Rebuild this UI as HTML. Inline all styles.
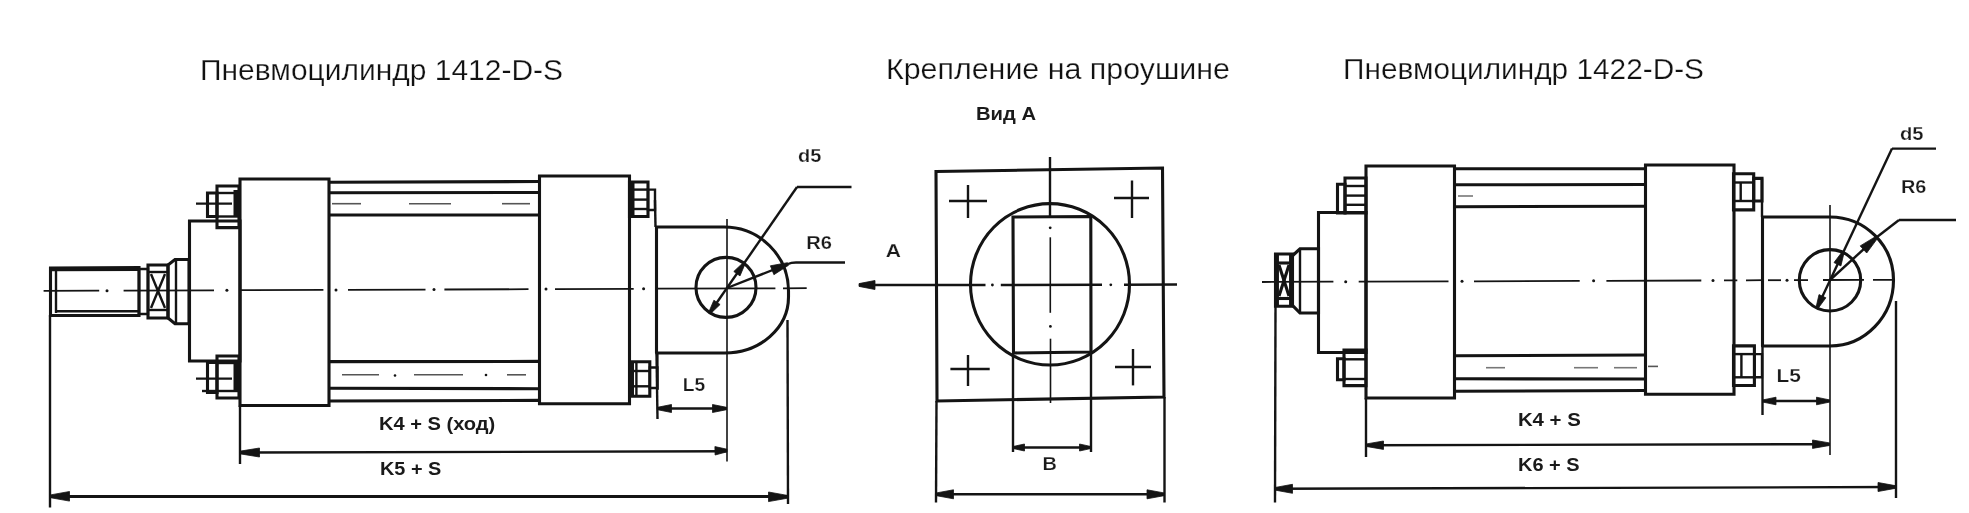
<!DOCTYPE html>
<html><head><meta charset="utf-8"><title>Пневмоцилиндр</title>
<style>
html,body{margin:0;padding:0;background:#fff;}
body{width:1969px;height:513px;overflow:hidden;}
svg{display:block;font-family:"Liberation Sans",sans-serif;filter:blur(0.45px);}
</style></head>
<body>
<svg width="1969" height="513" viewBox="0 0 1969 513">
<rect x="0" y="0" width="1969" height="513" fill="#fff"/>
<text x="200.0" y="79.5" font-size="29" font-weight="normal" fill="#111" stroke="#fff" stroke-width="0.25" textLength="363.0" lengthAdjust="spacingAndGlyphs">Пневмоцилиндр 1412-D-S</text>
<text x="886.0" y="79.3" font-size="29" font-weight="normal" fill="#111" stroke="#fff" stroke-width="0.25" textLength="344.0" lengthAdjust="spacingAndGlyphs">Крепление на проушине</text>
<text x="1343.0" y="79.0" font-size="29" font-weight="normal" fill="#111" stroke="#fff" stroke-width="0.25" textLength="361.0" lengthAdjust="spacingAndGlyphs">Пневмоцилиндр 1422-D-S</text>
<text x="976.0" y="120.0" font-size="19" font-weight="bold" fill="#1a1a1a" textLength="60.0" lengthAdjust="spacingAndGlyphs">Вид А</text>
<polygon points="50.5,268 139,267.5 139,315.5 50.5,315.5" fill="none" stroke="#141414" stroke-width="3.1" stroke-linejoin="miter"/>
<line x1="52" y1="269.2" x2="139" y2="269" stroke="#141414" stroke-width="4.2" stroke-linecap="butt"/>
<line x1="56" y1="311.2" x2="139" y2="311.2" stroke="#141414" stroke-width="2.4" stroke-linecap="butt"/>
<line x1="56" y1="269" x2="56" y2="313" stroke="#141414" stroke-width="2.4" stroke-linecap="butt"/>
<polygon points="139,269 148,269 148,314 139,314" fill="none" stroke="#141414" stroke-width="2.4" stroke-linejoin="miter"/>
<polygon points="148,265 168,265 168,318 148,318" fill="none" stroke="#141414" stroke-width="3.1" stroke-linejoin="miter"/>
<line x1="148" y1="272" x2="168" y2="272" stroke="#141414" stroke-width="2.4" stroke-linecap="butt"/>
<line x1="148" y1="310" x2="168" y2="310" stroke="#141414" stroke-width="2.4" stroke-linecap="butt"/>
<line x1="151" y1="274" x2="165" y2="308" stroke="#141414" stroke-width="2.4" stroke-linecap="butt"/>
<line x1="165" y1="274" x2="151" y2="308" stroke="#141414" stroke-width="2.4" stroke-linecap="butt"/>
<polygon points="168,265 175,259.5 189,259.5 189,323.8 175,323.8 168,318" fill="none" stroke="#141414" stroke-width="3.1" stroke-linejoin="miter"/>
<line x1="176" y1="260" x2="176" y2="323" stroke="#141414" stroke-width="2.4" stroke-linecap="butt"/>
<polygon points="189.5,221 240,221 240,361 189.5,361" fill="none" stroke="#141414" stroke-width="3.1" stroke-linejoin="miter"/>
<polygon points="240,179 329,179 329,405.5 240,405.5" fill="none" stroke="#141414" stroke-width="3.1" stroke-linejoin="miter"/>
<polygon points="217,186 239,186 239,227.6 217,227.6" fill="none" stroke="#141414" stroke-width="3.1" stroke-linejoin="miter"/>
<line x1="217" y1="193" x2="239" y2="193" stroke="#141414" stroke-width="2.4" stroke-linecap="butt"/>
<line x1="217" y1="216.5" x2="239" y2="216.5" stroke="#141414" stroke-width="2.4" stroke-linecap="butt"/>
<rect x="233.5" y="190" width="5.5" height="26" fill="#141414"/>
<polygon points="207.5,193 217,193 217,216.5 207.5,216.5" fill="none" stroke="#141414" stroke-width="3.1" stroke-linejoin="miter"/>
<line x1="196" y1="203.6" x2="232" y2="203.6" stroke="#141414" stroke-width="2.4" stroke-linecap="butt"/>
<polygon points="217,356 239,356 239,398 217,398" fill="none" stroke="#141414" stroke-width="3.1" stroke-linejoin="miter"/>
<line x1="217" y1="363" x2="239" y2="363" stroke="#141414" stroke-width="2.4" stroke-linecap="butt"/>
<line x1="217" y1="391" x2="239" y2="391" stroke="#141414" stroke-width="2.4" stroke-linecap="butt"/>
<rect x="233.5" y="360" width="5.5" height="30" fill="#141414"/>
<polygon points="207.5,362.5 217,362.5 217,392.5 207.5,392.5" fill="none" stroke="#141414" stroke-width="3.1" stroke-linejoin="miter"/>
<line x1="196" y1="378.6" x2="232" y2="378.6" stroke="#141414" stroke-width="2.4" stroke-linecap="butt"/>
<line x1="202" y1="391" x2="217" y2="391" stroke="#141414" stroke-width="2.4" stroke-linecap="butt"/>
<line x1="329" y1="182.2" x2="539.5" y2="181.5" stroke="#141414" stroke-width="3.1" stroke-linecap="butt"/>
<line x1="329" y1="192.7" x2="539.5" y2="192.5" stroke="#141414" stroke-width="3.1" stroke-linecap="butt"/>
<line x1="329" y1="215" x2="539.5" y2="215" stroke="#141414" stroke-width="3.1" stroke-linecap="butt"/>
<line x1="329" y1="361.6" x2="539.5" y2="361.4" stroke="#141414" stroke-width="3.1" stroke-linecap="butt"/>
<line x1="329" y1="388.2" x2="539.5" y2="388.7" stroke="#141414" stroke-width="3.1" stroke-linecap="butt"/>
<line x1="329" y1="401" x2="539.5" y2="400.4" stroke="#141414" stroke-width="3.1" stroke-linecap="butt"/>
<line x1="332" y1="203.7" x2="361" y2="203.7" stroke="#555" stroke-width="1.6" stroke-linecap="butt"/>
<line x1="409" y1="203.7" x2="451" y2="203.7" stroke="#555" stroke-width="1.6" stroke-linecap="butt"/>
<line x1="502" y1="203.7" x2="530" y2="203.7" stroke="#555" stroke-width="1.6" stroke-linecap="butt"/>
<line x1="342" y1="374.8" x2="379" y2="374.8" stroke="#555" stroke-width="1.6" stroke-linecap="butt"/>
<line x1="414" y1="374.8" x2="463" y2="374.8" stroke="#555" stroke-width="1.6" stroke-linecap="butt"/>
<line x1="507" y1="374.8" x2="526" y2="374.8" stroke="#555" stroke-width="1.6" stroke-linecap="butt"/>
<circle cx="395" cy="375.5" r="1.3" fill="#141414"/>
<circle cx="486" cy="375" r="1.3" fill="#141414"/>
<polygon points="539.5,176 629.5,176 629.5,403.7 539.5,403.7" fill="none" stroke="#141414" stroke-width="3.1" stroke-linejoin="miter"/>
<polygon points="629.5,182 648,182 648,216.5 629.5,216.5" fill="none" stroke="#141414" stroke-width="3.1" stroke-linejoin="miter"/>
<line x1="629.5" y1="189.6" x2="648" y2="189.6" stroke="#141414" stroke-width="2.4" stroke-linecap="butt"/>
<line x1="629.5" y1="199.6" x2="648" y2="199.6" stroke="#141414" stroke-width="2.4" stroke-linecap="butt"/>
<line x1="629.5" y1="209" x2="648" y2="209" stroke="#141414" stroke-width="2.4" stroke-linecap="butt"/>
<rect x="628.5" y="181" width="6" height="36" fill="#141414"/>
<polygon points="648,189.6 655,189.6 655,210 648,210" fill="none" stroke="#141414" stroke-width="2.4" stroke-linejoin="miter"/>
<line x1="655" y1="200" x2="655.5" y2="227" stroke="#141414" stroke-width="2.4" stroke-linecap="butt"/>
<polygon points="630,361.7 649.8,361.7 649.8,396.2 630,396.2" fill="none" stroke="#141414" stroke-width="3.1" stroke-linejoin="miter"/>
<line x1="630" y1="371" x2="649.8" y2="371" stroke="#141414" stroke-width="2.4" stroke-linecap="butt"/>
<line x1="630" y1="386.3" x2="649.8" y2="386.3" stroke="#141414" stroke-width="2.4" stroke-linecap="butt"/>
<line x1="636.4" y1="361.7" x2="636.4" y2="396.2" stroke="#141414" stroke-width="2.4" stroke-linecap="butt"/>
<rect x="629" y="361" width="5" height="36" fill="#141414"/>
<polygon points="649.8,367.5 657.4,367.5 657.4,388 649.8,388" fill="none" stroke="#141414" stroke-width="2.4" stroke-linejoin="miter"/>
<line x1="657.4" y1="352" x2="657.4" y2="390" stroke="#141414" stroke-width="2.4" stroke-linecap="butt"/>
<path d="M656.5,227 L724,227 A64.5,64 0 0 1 788.5,291 L788.5,297 A63.5,56 0 0 1 725,353 L656.5,353 Z" fill="none" stroke="#141414" stroke-width="3.1" stroke-linejoin="round"/>
<circle cx="726" cy="287.4" r="30" fill="none" stroke="#141414" stroke-width="3.1"/>
<line x1="43.6" y1="290.9" x2="99.2" y2="290.7" stroke="#141414" stroke-width="1.8" stroke-linecap="butt"/>
<line x1="123.6" y1="290.6" x2="214" y2="290.3" stroke="#141414" stroke-width="1.8" stroke-linecap="butt"/>
<line x1="240.8" y1="290.2" x2="323.4" y2="289.9" stroke="#141414" stroke-width="1.8" stroke-linecap="butt"/>
<line x1="348" y1="289.8" x2="425.5" y2="289.6" stroke="#141414" stroke-width="1.8" stroke-linecap="butt"/>
<line x1="444.4" y1="289.5" x2="528.5" y2="289.2" stroke="#141414" stroke-width="1.8" stroke-linecap="butt"/>
<line x1="555" y1="289.1" x2="633.7" y2="288.8" stroke="#141414" stroke-width="1.8" stroke-linecap="butt"/>
<line x1="655" y1="288.7" x2="775.4" y2="288.3" stroke="#141414" stroke-width="1.8" stroke-linecap="butt"/>
<line x1="783" y1="288.3" x2="806.7" y2="288.2" stroke="#141414" stroke-width="1.8" stroke-linecap="butt"/>
<circle cx="107" cy="290.7" r="1.5" fill="#141414"/>
<circle cx="226.9" cy="290.2" r="1.5" fill="#141414"/>
<circle cx="336" cy="289.9" r="1.5" fill="#141414"/>
<circle cx="434" cy="289.5" r="1.5" fill="#141414"/>
<circle cx="546" cy="289.1" r="1.5" fill="#141414"/>
<circle cx="643.6" cy="288.8" r="1.5" fill="#141414"/>
<line x1="727" y1="219" x2="727" y2="461.5" stroke="#141414" stroke-width="1.6" stroke-linecap="butt"/>
<line x1="797" y1="187" x2="851.5" y2="187" stroke="#141414" stroke-width="2.4" stroke-linecap="butt"/>
<line x1="797" y1="187" x2="709.6" y2="313" stroke="#141414" stroke-width="2.4" stroke-linecap="butt"/>
<polygon points="745.2,263.6 740.0,275.9 733.8,271.5 743.4,262.4" fill="#141414" stroke="#141414" stroke-width="0.8"/>
<polygon points="708.7,312.3 713.9,300.2 720.1,304.5 710.5,313.7" fill="#141414" stroke="#141414" stroke-width="0.8"/>
<line x1="727" y1="288" x2="788" y2="264" stroke="#141414" stroke-width="2.4" stroke-linecap="butt"/>
<path d="M788,264 Q791,262.5 796,262.5 L845,262.5" fill="none" stroke="#141414" stroke-width="2.4" stroke-linejoin="round"/>
<polygon points="788.5,265.3 773.9,274.7 770.4,265.8 787.5,262.7" fill="#141414" stroke="#141414" stroke-width="0.8"/>
<text x="798.0" y="162.0" font-size="19" font-weight="bold" fill="#1a1a1a" stroke="#fff" stroke-width="0.25" textLength="23.4" lengthAdjust="spacingAndGlyphs">d5</text>
<text x="806.3" y="249.0" font-size="19" font-weight="bold" fill="#1a1a1a" stroke="#fff" stroke-width="0.25" textLength="25.7" lengthAdjust="spacingAndGlyphs">R6</text>
<line x1="656.5" y1="353.5" x2="657.5" y2="419" stroke="#141414" stroke-width="2.4" stroke-linecap="butt"/>
<line x1="787.5" y1="320" x2="788" y2="504" stroke="#141414" stroke-width="2.4" stroke-linecap="butt"/>
<line x1="240" y1="405.5" x2="240" y2="464" stroke="#141414" stroke-width="2.4" stroke-linecap="butt"/>
<line x1="50" y1="315" x2="50" y2="507.5" stroke="#141414" stroke-width="2.4" stroke-linecap="butt"/>
<line x1="657" y1="408.5" x2="727" y2="408.5" stroke="#141414" stroke-width="2.4" stroke-linecap="butt"/>
<polygon points="657.5,407.3 671.5,404.5 671.5,412.5 657.5,409.7" fill="#141414" stroke="#141414" stroke-width="0.8"/>
<polygon points="726.5,409.7 712.5,412.5 712.5,404.5 726.5,407.3" fill="#141414" stroke="#141414" stroke-width="0.8"/>
<text x="682.7" y="390.9" font-size="19" font-weight="bold" fill="#1a1a1a" stroke="#fff" stroke-width="0.25" textLength="22.5" lengthAdjust="spacingAndGlyphs">L5</text>
<line x1="240" y1="452.5" x2="727" y2="451.3" stroke="#141414" stroke-width="2.4" stroke-linecap="butt"/>
<polygon points="240.5,451.1 259.5,448.0 259.5,457.0 240.5,453.9" fill="#141414" stroke="#141414" stroke-width="0.8"/>
<polygon points="727.0,451.8 715.1,455.0 714.9,446.6 727.0,449.2" fill="#141414" stroke="#141414" stroke-width="0.8"/>
<text x="378.9" y="430.3" font-size="19" font-weight="bold" fill="#1a1a1a" textLength="116.4" lengthAdjust="spacingAndGlyphs">K4 + S (ход)</text>
<line x1="50" y1="496.5" x2="788" y2="496.5" stroke="#141414" stroke-width="2.8" stroke-linecap="butt"/>
<polygon points="50.5,494.9 69.5,491.5 69.5,501.1 50.5,497.7" fill="#141414" stroke="#141414" stroke-width="0.8"/>
<polygon points="787.5,498.2 768.5,501.6 768.5,492.0 787.5,495.4" fill="#141414" stroke="#141414" stroke-width="0.8"/>
<text x="380.0" y="474.9" font-size="19" font-weight="bold" fill="#1a1a1a" textLength="61.3" lengthAdjust="spacingAndGlyphs">K5 + S</text>
<polygon points="936,171.5 1162.5,168 1164,397 937,401" fill="none" stroke="#141414" stroke-width="3.1" stroke-linejoin="miter"/>
<ellipse cx="1050" cy="284.3" rx="79.5" ry="80.7" fill="none" stroke="#141414" stroke-width="3.1"/>
<polygon points="1013,217 1090.8,216.5 1091,352 1013.5,353" fill="none" stroke="#141414" stroke-width="3.1" stroke-linejoin="miter"/>
<line x1="949" y1="201" x2="987" y2="201" stroke="#141414" stroke-width="2.4" stroke-linecap="butt"/>
<line x1="968" y1="185" x2="968" y2="218" stroke="#141414" stroke-width="2.4" stroke-linecap="butt"/>
<line x1="1114" y1="198" x2="1149" y2="198" stroke="#141414" stroke-width="2.4" stroke-linecap="butt"/>
<line x1="1132" y1="180.5" x2="1132" y2="218" stroke="#141414" stroke-width="2.4" stroke-linecap="butt"/>
<line x1="950.4" y1="369" x2="989.7" y2="369" stroke="#141414" stroke-width="2.4" stroke-linecap="butt"/>
<line x1="968" y1="355" x2="968" y2="386" stroke="#141414" stroke-width="2.4" stroke-linecap="butt"/>
<line x1="1115" y1="367" x2="1151" y2="367" stroke="#141414" stroke-width="2.4" stroke-linecap="butt"/>
<line x1="1133" y1="349" x2="1133" y2="385.4" stroke="#141414" stroke-width="2.4" stroke-linecap="butt"/>
<line x1="1050" y1="157" x2="1050" y2="217.5" stroke="#141414" stroke-width="2.4" stroke-linecap="butt"/>
<line x1="1050.3" y1="237.3" x2="1050.3" y2="312.8" stroke="#141414" stroke-width="1.6" stroke-linecap="butt"/>
<line x1="1050.5" y1="338.7" x2="1050.5" y2="403" stroke="#141414" stroke-width="1.6" stroke-linecap="butt"/>
<circle cx="1050.2" cy="227.8" r="1.4" fill="#141414"/>
<circle cx="1050.4" cy="326.4" r="1.4" fill="#141414"/>
<line x1="859" y1="285" x2="985.5" y2="285" stroke="#141414" stroke-width="2.4" stroke-linecap="butt"/>
<line x1="1000.8" y1="285" x2="1102" y2="284.8" stroke="#141414" stroke-width="2.4" stroke-linecap="butt"/>
<circle cx="992.4" cy="285" r="1.4" fill="#141414"/>
<line x1="1124" y1="284.7" x2="1177" y2="284.5" stroke="#141414" stroke-width="2.4" stroke-linecap="butt"/>
<circle cx="1110.8" cy="284.8" r="1.4" fill="#141414"/>
<polygon points="859.0,283.6 875.0,280.5 875.0,289.5 859.0,286.4" fill="#141414" stroke="#141414" stroke-width="0.8"/>
<text x="885.8" y="257.0" font-size="19" font-weight="bold" fill="#1a1a1a" stroke="#fff" stroke-width="0.25" textLength="15.2" lengthAdjust="spacingAndGlyphs">A</text>
<line x1="1013" y1="353" x2="1013" y2="452" stroke="#141414" stroke-width="2.4" stroke-linecap="butt"/>
<line x1="1091" y1="352" x2="1091" y2="452" stroke="#141414" stroke-width="2.4" stroke-linecap="butt"/>
<line x1="1013" y1="447.5" x2="1091" y2="447.5" stroke="#141414" stroke-width="2.4" stroke-linecap="butt"/>
<polygon points="1013.5,446.4 1024.5,444.0 1024.5,451.0 1013.5,448.6" fill="#141414" stroke="#141414" stroke-width="0.8"/>
<polygon points="1090.5,448.6 1079.5,451.0 1079.5,444.0 1090.5,446.4" fill="#141414" stroke="#141414" stroke-width="0.8"/>
<text x="1042.6" y="470.0" font-size="19" font-weight="bold" fill="#1a1a1a" stroke="#fff" stroke-width="0.25" textLength="14.4" lengthAdjust="spacingAndGlyphs">B</text>
<line x1="936.5" y1="401" x2="936" y2="502.5" stroke="#141414" stroke-width="2.4" stroke-linecap="butt"/>
<line x1="1164.5" y1="397" x2="1164.5" y2="502.5" stroke="#141414" stroke-width="2.4" stroke-linecap="butt"/>
<line x1="936" y1="494.3" x2="1164.5" y2="494.3" stroke="#141414" stroke-width="2.4" stroke-linecap="butt"/>
<polygon points="936.5,492.9 953.5,489.8 953.5,498.8 936.5,495.7" fill="#141414" stroke="#141414" stroke-width="0.8"/>
<polygon points="1164.0,495.7 1147.0,498.8 1147.0,489.8 1164.0,492.9" fill="#141414" stroke="#141414" stroke-width="0.8"/>
<polygon points="1275.5,254 1292.5,254 1292.5,306.3 1275.5,306.3" fill="none" stroke="#141414" stroke-width="3.1" stroke-linejoin="miter"/>
<line x1="1277.2" y1="254" x2="1277.2" y2="306" stroke="#141414" stroke-width="3.5" stroke-linecap="butt"/>
<line x1="1290.8" y1="254" x2="1290.8" y2="306" stroke="#141414" stroke-width="3.5" stroke-linecap="butt"/>
<line x1="1275.5" y1="263" x2="1292.5" y2="263" stroke="#141414" stroke-width="3.1" stroke-linecap="butt"/>
<line x1="1275.5" y1="298.5" x2="1292.5" y2="298.5" stroke="#141414" stroke-width="3.1" stroke-linecap="butt"/>
<line x1="1279" y1="265" x2="1289" y2="296" stroke="#141414" stroke-width="3.1" stroke-linecap="butt"/>
<line x1="1289" y1="265" x2="1279" y2="296" stroke="#141414" stroke-width="3.1" stroke-linecap="butt"/>
<polygon points="1292.2,256 1300,248.8 1318.5,248.8 1318.5,313 1300,313 1292.2,305" fill="none" stroke="#141414" stroke-width="3.1" stroke-linejoin="miter"/>
<line x1="1300" y1="249" x2="1300" y2="313" stroke="#141414" stroke-width="2.4" stroke-linecap="butt"/>
<polygon points="1318.5,212.5 1366,212.5 1366,352.5 1318.5,352.5" fill="none" stroke="#141414" stroke-width="3.1" stroke-linejoin="miter"/>
<polygon points="1366,166 1454.5,166 1454.5,398 1366,398" fill="none" stroke="#141414" stroke-width="3.1" stroke-linejoin="miter"/>
<polygon points="1345,178 1366,178 1366,213 1345,213" fill="none" stroke="#141414" stroke-width="3.1" stroke-linejoin="miter"/>
<line x1="1345" y1="186" x2="1366" y2="186" stroke="#141414" stroke-width="2.4" stroke-linecap="butt"/>
<line x1="1345" y1="195.6" x2="1366" y2="195.6" stroke="#141414" stroke-width="2.4" stroke-linecap="butt"/>
<line x1="1345" y1="204.8" x2="1366" y2="204.8" stroke="#141414" stroke-width="2.4" stroke-linecap="butt"/>
<polygon points="1337.5,184.3 1345,184.3 1345,213 1337.5,213" fill="none" stroke="#141414" stroke-width="3.1" stroke-linejoin="miter"/>
<polygon points="1344,350 1366,350 1366,385.6 1344,385.6" fill="none" stroke="#141414" stroke-width="3.1" stroke-linejoin="miter"/>
<line x1="1344" y1="359.3" x2="1366" y2="359.3" stroke="#141414" stroke-width="2.4" stroke-linecap="butt"/>
<line x1="1344" y1="379" x2="1366" y2="379" stroke="#141414" stroke-width="2.4" stroke-linecap="butt"/>
<polygon points="1337.5,358.7 1344,358.7 1344,379.8 1337.5,379.8" fill="none" stroke="#141414" stroke-width="3.1" stroke-linejoin="miter"/>
<line x1="1454.5" y1="168.7" x2="1645.5" y2="168.7" stroke="#141414" stroke-width="3.1" stroke-linecap="butt"/>
<line x1="1454.5" y1="184.8" x2="1645.5" y2="184.5" stroke="#141414" stroke-width="3.1" stroke-linecap="butt"/>
<line x1="1454.5" y1="206.7" x2="1645.5" y2="206.3" stroke="#141414" stroke-width="3.1" stroke-linecap="butt"/>
<line x1="1454.5" y1="355.7" x2="1645.5" y2="355" stroke="#141414" stroke-width="3.1" stroke-linecap="butt"/>
<line x1="1454.5" y1="378.8" x2="1645.5" y2="379" stroke="#141414" stroke-width="3.1" stroke-linecap="butt"/>
<line x1="1454.5" y1="391.3" x2="1645.5" y2="390.5" stroke="#141414" stroke-width="3.1" stroke-linecap="butt"/>
<line x1="1458" y1="196" x2="1473" y2="196" stroke="#777" stroke-width="1.6" stroke-linecap="butt"/>
<line x1="1486" y1="367.7" x2="1505" y2="367.7" stroke="#777" stroke-width="1.6" stroke-linecap="butt"/>
<line x1="1574" y1="367.7" x2="1598" y2="367.7" stroke="#777" stroke-width="1.6" stroke-linecap="butt"/>
<line x1="1614" y1="367.7" x2="1637" y2="367.7" stroke="#777" stroke-width="1.6" stroke-linecap="butt"/>
<line x1="1648" y1="366.4" x2="1658" y2="366.4" stroke="#555" stroke-width="1.6" stroke-linecap="butt"/>
<polygon points="1645.5,165 1734,165 1734,394.2 1645.5,394.2" fill="none" stroke="#141414" stroke-width="3.1" stroke-linejoin="miter"/>
<polygon points="1733.5,173.7 1753.7,173.7 1753.7,209.9 1733.5,209.9" fill="none" stroke="#141414" stroke-width="3.1" stroke-linejoin="miter"/>
<line x1="1733.5" y1="182.5" x2="1753.7" y2="182.5" stroke="#141414" stroke-width="2.4" stroke-linecap="butt"/>
<line x1="1733.5" y1="201" x2="1753.7" y2="201" stroke="#141414" stroke-width="2.4" stroke-linecap="butt"/>
<line x1="1740.7" y1="182.5" x2="1740.7" y2="201" stroke="#141414" stroke-width="2.4" stroke-linecap="butt"/>
<polygon points="1753.7,178.4 1762,178.4 1762,201 1753.7,201" fill="none" stroke="#141414" stroke-width="3.1" stroke-linejoin="miter"/>
<line x1="1762" y1="178.4" x2="1762" y2="217" stroke="#141414" stroke-width="2.4" stroke-linecap="butt"/>
<polygon points="1733.5,345.9 1754.4,345.9 1754.4,385.5 1733.5,385.5" fill="none" stroke="#141414" stroke-width="3.1" stroke-linejoin="miter"/>
<line x1="1733.5" y1="354.1" x2="1754.4" y2="354.1" stroke="#141414" stroke-width="2.4" stroke-linecap="butt"/>
<line x1="1733.5" y1="377.3" x2="1754.4" y2="377.3" stroke="#141414" stroke-width="2.4" stroke-linecap="butt"/>
<line x1="1741.4" y1="354.1" x2="1741.4" y2="377.3" stroke="#141414" stroke-width="2.4" stroke-linecap="butt"/>
<polygon points="1754.4,354.1 1762,354.1 1762,377.3 1754.4,377.3" fill="none" stroke="#141414" stroke-width="2.4" stroke-linejoin="miter"/>
<path d="M1762.5,217 L1830,217 A63.5,63 0 0 1 1893.5,280 A63.5,66 0 0 1 1830,346 L1762.5,346 Z" fill="none" stroke="#141414" stroke-width="3.1" stroke-linejoin="round"/>
<circle cx="1830" cy="280.3" r="30.7" fill="none" stroke="#141414" stroke-width="3.1"/>
<line x1="1262" y1="282.0" x2="1333.4" y2="281.7" stroke="#141414" stroke-width="1.8" stroke-linecap="butt"/>
<line x1="1358.7" y1="281.7" x2="1448.5" y2="281.3" stroke="#141414" stroke-width="1.8" stroke-linecap="butt"/>
<line x1="1474" y1="281.3" x2="1579.7" y2="280.9" stroke="#141414" stroke-width="1.8" stroke-linecap="butt"/>
<line x1="1606.4" y1="280.8" x2="1701.3" y2="280.5" stroke="#141414" stroke-width="1.8" stroke-linecap="butt"/>
<line x1="1724" y1="280.4" x2="1737.3" y2="280.3" stroke="#141414" stroke-width="1.8" stroke-linecap="butt"/>
<line x1="1746" y1="280.3" x2="1764" y2="280.2" stroke="#141414" stroke-width="1.8" stroke-linecap="butt"/>
<line x1="1768" y1="280.2" x2="1781" y2="280.2" stroke="#141414" stroke-width="1.8" stroke-linecap="butt"/>
<line x1="1794" y1="280.1" x2="1808" y2="280.1" stroke="#141414" stroke-width="1.8" stroke-linecap="butt"/>
<line x1="1823" y1="280.0" x2="1864" y2="279.9" stroke="#141414" stroke-width="1.8" stroke-linecap="butt"/>
<line x1="1873" y1="279.9" x2="1892" y2="279.8" stroke="#141414" stroke-width="1.8" stroke-linecap="butt"/>
<circle cx="1345.7" cy="281.7" r="1.5" fill="#141414"/>
<circle cx="1462" cy="281.3" r="1.5" fill="#141414"/>
<circle cx="1593.6" cy="280.8" r="1.5" fill="#141414"/>
<circle cx="1713" cy="280.4" r="1.5" fill="#141414"/>
<circle cx="1787" cy="280.2" r="1.5" fill="#141414"/>
<line x1="1830" y1="205" x2="1830" y2="455" stroke="#141414" stroke-width="1.6" stroke-linecap="butt"/>
<line x1="1892" y1="148.6" x2="1936" y2="148.6" stroke="#141414" stroke-width="2.4" stroke-linecap="butt"/>
<line x1="1892" y1="148.6" x2="1817" y2="308" stroke="#141414" stroke-width="2.4" stroke-linecap="butt"/>
<polygon points="1844.0,253.0 1840.9,265.9 1834.0,262.6 1842.0,252.0" fill="#141414" stroke="#141414" stroke-width="0.8"/>
<polygon points="1816.0,307.5 1819.0,294.6 1825.9,297.8 1818.0,308.5" fill="#141414" stroke="#141414" stroke-width="0.8"/>
<line x1="1830" y1="280" x2="1877" y2="237" stroke="#141414" stroke-width="2.4" stroke-linecap="butt"/>
<line x1="1877" y1="237" x2="1899" y2="220" stroke="#141414" stroke-width="2.4" stroke-linecap="butt"/>
<line x1="1899" y1="220" x2="1956" y2="220" stroke="#141414" stroke-width="2.4" stroke-linecap="butt"/>
<polygon points="1877.0,239.1 1866.7,253.0 1860.2,245.9 1875.0,236.9" fill="#141414" stroke="#141414" stroke-width="0.8"/>
<text x="1900.0" y="140.0" font-size="19" font-weight="bold" fill="#1a1a1a" stroke="#fff" stroke-width="0.25" textLength="23.6" lengthAdjust="spacingAndGlyphs">d5</text>
<text x="1901.0" y="192.5" font-size="19" font-weight="bold" fill="#1a1a1a" stroke="#fff" stroke-width="0.25" textLength="25.4" lengthAdjust="spacingAndGlyphs">R6</text>
<line x1="1762.5" y1="346" x2="1762.5" y2="415" stroke="#141414" stroke-width="2.4" stroke-linecap="butt"/>
<line x1="1896" y1="301" x2="1896" y2="498" stroke="#141414" stroke-width="2.4" stroke-linecap="butt"/>
<line x1="1366" y1="398" x2="1366" y2="457" stroke="#141414" stroke-width="2.4" stroke-linecap="butt"/>
<line x1="1275.5" y1="306" x2="1275" y2="502.5" stroke="#141414" stroke-width="2.4" stroke-linecap="butt"/>
<line x1="1762.5" y1="401" x2="1830" y2="401" stroke="#141414" stroke-width="2.4" stroke-linecap="butt"/>
<polygon points="1763.0,399.9 1776.0,397.2 1776.0,404.8 1763.0,402.1" fill="#141414" stroke="#141414" stroke-width="0.8"/>
<polygon points="1829.5,402.1 1816.5,404.8 1816.5,397.2 1829.5,399.9" fill="#141414" stroke="#141414" stroke-width="0.8"/>
<text x="1776.6" y="382.4" font-size="19" font-weight="bold" fill="#1a1a1a" stroke="#fff" stroke-width="0.25" textLength="24.4" lengthAdjust="spacingAndGlyphs">L5</text>
<line x1="1366" y1="445.2" x2="1830" y2="444.2" stroke="#141414" stroke-width="2.4" stroke-linecap="butt"/>
<polygon points="1366.5,443.9 1383.5,441.0 1383.5,449.4 1366.5,446.5" fill="#141414" stroke="#141414" stroke-width="0.8"/>
<polygon points="1829.5,445.5 1812.5,448.4 1812.5,440.0 1829.5,442.9" fill="#141414" stroke="#141414" stroke-width="0.8"/>
<text x="1517.9" y="426.0" font-size="19" font-weight="bold" fill="#1a1a1a" textLength="62.9" lengthAdjust="spacingAndGlyphs">K4 + S</text>
<line x1="1275" y1="488.8" x2="1895.5" y2="487" stroke="#141414" stroke-width="2.4" stroke-linecap="butt"/>
<polygon points="1275.5,487.4 1292.5,484.3 1292.5,493.3 1275.5,490.2" fill="#141414" stroke="#141414" stroke-width="0.8"/>
<polygon points="1895.0,488.4 1878.0,491.5 1878.0,482.5 1895.0,485.6" fill="#141414" stroke="#141414" stroke-width="0.8"/>
<text x="1518.0" y="470.5" font-size="19" font-weight="bold" fill="#1a1a1a" textLength="61.6" lengthAdjust="spacingAndGlyphs">K6 + S</text>
</svg>
</body></html>
